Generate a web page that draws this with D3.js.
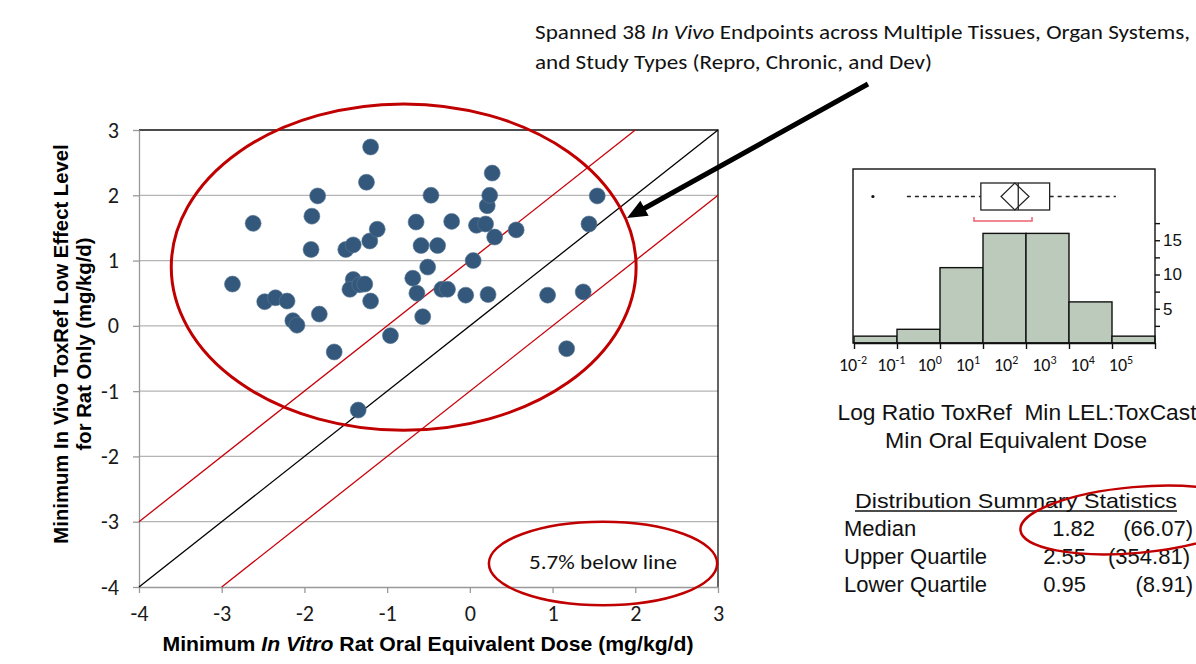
<!DOCTYPE html>
<html>
<head>
<meta charset="utf-8">
<script src="https://cdn.jsdelivr.net/npm/d3@7"></script>
<style>
  body { margin: 0; background: #fff; }
  svg { display: block; }
</style>
</head>
<body>
<svg id="chart" width="1196" height="664"></svg>
<script>
// scatter: min in vitro oral equivalent dose (x) vs min in vivo LEL (y), log10 mg/kg/d
var xVals = [-2.87, -2.62, -2.48, -2.35, -2.21, -2.14, -2.09, -1.84, -1.91, -1.92,
             -1.82, -1.64, -1.50, -1.41, -1.41, -1.45, -1.33, -1.27, -1.25, -1.20,
             -1.21, -1.12, -1.20, -1.35, -0.96, -0.69, -0.65, -0.59, -0.64, -0.57,
             -0.51, -0.47, -0.39, -0.34, -0.27, -0.22, -0.05, 0.04, 0.08, 0.19,
             0.22, 0.21, 0.24, 0.27, 0.30, 0.56, 0.94, 1.17, 1.37, 1.44, 1.54]
var yVals = [0.64, 1.57, 0.37, 0.43, 0.38, 0.08, 0.01, 1.99, 1.68, 1.17,
             0.18, -0.40, 1.17, 1.24, 0.71, 0.56, 0.63, 0.64, 2.20, 2.74,
             1.30, 1.48, 0.38, -1.29, -0.15, 0.73, 1.59, 1.23, 0.50, 0.14,
             0.90, 2.00, 1.23, 0.56, 0.56, 1.60, 0.47, 1.00, 1.54, 1.56,
             0.48, 1.84, 2.00, 2.34, 1.36, 1.47, 0.47, -0.35, 0.52, 1.56, 1.99]
var axisTicks = [-4, -3, -2, -1, 0, 1, 2, 3]
var lineOffsets = [1, 0, -1]

// histogram of log ratio
var binEdges = [-2, -1, 0, 1, 2, 3, 4, 5]
var binCounts = [1, 2, 11, 16, 16, 6, 1]
var histLabelExps = [-2, -1, 0, 1, 2, 3, 4, 5]
var countTicks = [2.5, 5, 7.5, 10, 12.5, 15, 17.5]
var box = { outlier: -1.56, lo: -0.77, q1: 0.95, med: 1.82, q3: 2.55, hi: 4.09,
            mean: 1.74, meanLo: 1.42, meanHi: 2.07, shortLo: 0.79, shortHi: 2.14 }

var statNames = ["Median", "Upper Quartile", "Lower Quartile"]
var statVals = ["1.82", "2.55", "0.95"]
var statBack = ["(66.07)", "(354.81)", "(8.91)"]

var svg = d3.select("#chart")
var calibri = "Carlito, 'Open Sans', sans-serif"
var arial = "'Liberation Sans', Arial, sans-serif"

var x = d3.scaleLinear().domain([-4, 3]).range([139, 718])
var y = d3.scaleLinear().domain([-4, 3]).range([587, 130])

// gridlines
svg.append("g").selectAll("line")
   .data(axisTicks.filter(function(d){ return d > -4 && d < 3 }))
   .enter().append("line")
   .attr("x1", x(-4)).attr("x2", x(3))
   .attr("y1", function(d){ return y(d) }).attr("y2", function(d){ return y(d) })
   .attr("stroke", "#b4b4b4").attr("stroke-width", 1.3)

// border top & right
svg.append("path")
   .attr("d", "M" + x(-4) + "," + y(3) + "H" + x(3) + "V" + y(-4))
   .attr("fill", "none").attr("stroke", "#111").attr("stroke-width", 1.3)

var fmt = function(d){ return String(d) }
var yAxis = d3.axisLeft(y).tickValues(axisTicks).tickFormat(fmt).tickSize(6).tickPadding(14).tickSizeOuter(0)
var gy = svg.append("g").attr("transform", "translate(" + x(-4) + ",0)").call(yAxis)
var xAxis = d3.axisBottom(x).tickValues(axisTicks).tickFormat(fmt).tickSize(6).tickPadding(12).tickSizeOuter(0)
var gx = svg.append("g").attr("transform", "translate(0," + y(-4) + ")").call(xAxis)
;[gx, gy].forEach(function(g){
  g.attr("font-size", null).attr("font-family", null)
  g.select(".domain").attr("stroke", "#999").attr("stroke-width", 1.3)
  g.selectAll(".tick line").attr("stroke", "#999").attr("stroke-width", 1.3)
  g.selectAll(".tick text").style("font-family", calibri).style("font-size", "20px").attr("fill", "#1a1a1a")
})
// size tick labels so "-4" is ~18px wide, like the original
var probe = gy.selectAll(".tick text").filter(function(d){ return d == -4 }).node()
var w = probe.getComputedTextLength()
var tickFont = Math.max(14, Math.min(26, 20 * 18 / w))
gx.selectAll(".tick text").style("font-size", tickFont + "px").attr("dy", "0.72em")
gy.selectAll(".tick text").style("font-size", tickFont + "px")

// diagonal lines y = x + k
svg.append("g").selectAll("line")
   .data(lineOffsets).enter().append("line")
   .attr("x1", function(k){ return x(Math.max(-4, -4 - k)) })
   .attr("y1", function(k){ return y(Math.max(-4, -4 - k) + k) })
   .attr("x2", function(k){ return x(Math.min(3, 3 - k)) })
   .attr("y2", function(k){ return y(Math.min(3, 3 - k) + k) })
   .attr("stroke", function(k){ return k == 0 ? "#000" : "#c8000a" })
   .attr("stroke-width", 1.3)

// points
svg.append("g").selectAll("circle")
   .data(xVals).enter().append("circle")
   .attr("cx", function(d){ return x(d) })
   .attr("cy", function(d, i){ return y(yVals[i]) })
   .attr("r", 8)
   .attr("fill", "#34587b")
   .attr("stroke", "#5a7896").attr("stroke-width", 0.6)

// annotation ellipses (data units)
var bigEl = { cx: -0.8, cy: 0.9, rx: 2.81, ry: 2.5 }
svg.append("ellipse")
   .attr("cx", x(bigEl.cx)).attr("cy", y(bigEl.cy))
   .attr("rx", x(bigEl.cx + bigEl.rx) - x(bigEl.cx))
   .attr("ry", y(bigEl.cy - bigEl.ry) - y(bigEl.cy))
   .attr("fill", "none").attr("stroke", "#c00000").attr("stroke-width", 3)

var smallEl = { cx: 1.61, cy: -3.64, rx: 1.38, ry: 0.64 }
svg.append("ellipse")
   .attr("cx", x(smallEl.cx)).attr("cy", y(smallEl.cy))
   .attr("rx", x(smallEl.cx + smallEl.rx) - x(smallEl.cx))
   .attr("ry", y(smallEl.cy - smallEl.ry) - y(smallEl.cy))
   .attr("fill", "none").attr("stroke", "#c00000").attr("stroke-width", 2.5)
svg.append("text")
   .attr("x", x(smallEl.cx)).attr("y", y(smallEl.cy) + 6)
   .attr("text-anchor", "middle").style("font-family", calibri).style("font-size", "20px")
   .attr("textLength", 148).attr("lengthAdjust", "spacingAndGlyphs")
   .attr("fill", "#111").text("5.7% below line")

// axis titles
var xt = svg.append("text").attr("x", 428).attr("y", 651).attr("text-anchor", "middle")
   .attr("font-family", arial).attr("font-size", 20.5).attr("font-weight", "bold")
   .attr("textLength", 531).attr("lengthAdjust", "spacingAndGlyphs")
xt.append("tspan").text("Minimum ")
xt.append("tspan").attr("font-style", "italic").text("In Vitro")
xt.append("tspan").text(" Rat Oral Equivalent Dose (mg/kg/d)")

var yt = svg.append("g").attr("transform", "translate(68,344) rotate(-90)")
yt.append("text").attr("text-anchor", "middle").attr("font-family", arial)
   .attr("font-size", 20.3).attr("font-weight", "bold")
   .text("Minimum In Vivo ToxRef Low Effect Level")
yt.append("text").attr("y", 23).attr("text-anchor", "middle").attr("font-family", arial)
   .attr("font-size", 20.3).attr("font-weight", "bold")
   .text("for Rat Only (mg/kg/d)")

// top annotation + arrow
var t1 = svg.append("text").attr("x", 535).attr("y", 39).style("font-family", calibri)
   .style("font-size", "20.5px").attr("fill", "#111")
   .attr("textLength", 655).attr("lengthAdjust", "spacingAndGlyphs")
t1.append("tspan").text("Spanned 38 ")
t1.append("tspan").attr("font-style", "italic").text("In Vivo")
t1.append("tspan").text(" Endpoints across Multiple Tissues, Organ Systems,")
svg.append("text").attr("x", 535).attr("y", 69).style("font-family", calibri)
   .style("font-size", "20.5px").attr("fill", "#111")
   .attr("textLength", 397).attr("lengthAdjust", "spacingAndGlyphs")
   .text("and Study Types (Repro, Chronic, and Dev)")

var a0 = [868, 84], a1 = [627, 218]
var dx = a1[0] - a0[0], dy = a1[1] - a0[1], len = Math.sqrt(dx*dx + dy*dy)
var ux = dx/len, uy = dy/len, hl = 20, hw = 8.5
var bx = a1[0] - ux*hl, by = a1[1] - uy*hl
svg.append("line").attr("x1", a0[0]).attr("y1", a0[1]).attr("x2", bx + ux*2).attr("y2", by + uy*2)
   .attr("stroke", "#000").attr("stroke-width", 5)
svg.append("polygon")
   .attr("points", [a1, [bx - uy*hw, by + ux*hw], [bx + uy*hw, by - ux*hw]].map(function(p){ return p.join(",") }).join(" "))
   .attr("fill", "#000")

// ---------- histogram panel ----------
var hx = d3.scaleLinear().domain([-2, 5]).range([854, 1155])
var hy = d3.scaleLinear().domain([0, 25.4]).range([343, 169])
var hlab = d3.scaleLinear().domain([-2, 5]).range([855, 1123])

svg.append("g").selectAll("rect")
   .data(binCounts).enter().append("rect")
   .attr("x", function(d, i){ return hx(binEdges[i]) })
   .attr("width", function(d, i){ return hx(binEdges[i] + 1) - hx(binEdges[i]) })
   .attr("y", function(d){ return hy(d) })
   .attr("height", function(d){ return hy(0) - hy(d) })
   .attr("fill", "#bccabb").attr("stroke", "#111").attr("stroke-width", 1.4)

svg.append("rect").attr("x", 853).attr("y", hy(25.4)).attr("width", hx(5) - 853)
   .attr("height", hy(0) - hy(25.4)).attr("fill", "none").attr("stroke", "#111").attr("stroke-width", 1.4)

var hxAxis = d3.axisBottom(hx).tickValues(binEdges).tickSize(6).tickFormat("").tickSizeOuter(0)
var ghx = svg.append("g").attr("transform", "translate(0," + hy(0) + ")").call(hxAxis)
ghx.select(".domain").attr("stroke", "#111").attr("stroke-width", 1.4)
ghx.selectAll(".tick line").attr("stroke", "#111").attr("stroke-width", 1.4)

var labs = svg.append("g").selectAll("text").data(histLabelExps).enter().append("text")
   .attr("x", function(d){ return hlab(d) - 2 }).attr("y", 371)
   .attr("text-anchor", "middle").style("font-family", calibri)
   .style("font-size", "18px").attr("fill", "#111")
labs.append("tspan").text("10")
labs.append("tspan").attr("dy", -7).style("font-size", "12px").text(function(d){ return d < 0 ? "-" + (-d) : d })

var hyAxis = d3.axisRight(hy).tickValues(countTicks).tickSize(5).tickPadding(3)
   .tickFormat(function(d){ return d % 5 == 0 ? d : "" }).tickSizeOuter(0)
var ghy = svg.append("g").attr("transform", "translate(" + hx(5) + ",0)").call(hyAxis)
ghy.select(".domain").remove()
ghy.selectAll(".tick line").attr("stroke", "#111").attr("stroke-width", 1.4)
ghy.selectAll(".tick text").style("font-family", arial).style("font-size", "17px").attr("fill", "#111")

// box plot
var by0 = 183, by1 = 210, bm = (by0 + by1) / 2
svg.append("line").attr("x1", hx(box.lo)).attr("x2", hx(box.q1)).attr("y1", bm).attr("y2", bm)
   .attr("stroke", "#222").attr("stroke-width", 1.5).attr("stroke-dasharray", "4,4")
svg.append("line").attr("x1", hx(box.q3)).attr("x2", hx(box.hi)).attr("y1", bm).attr("y2", bm)
   .attr("stroke", "#222").attr("stroke-width", 1.5).attr("stroke-dasharray", "4,4")
svg.append("rect").attr("x", hx(box.q1)).attr("y", by0).attr("width", hx(box.q3) - hx(box.q1))
   .attr("height", by1 - by0).attr("fill", "#fff").attr("stroke", "#222").attr("stroke-width", 1.3)
svg.append("line").attr("x1", hx(box.med)).attr("x2", hx(box.med)).attr("y1", by0).attr("y2", by1)
   .attr("stroke", "#222").attr("stroke-width", 1.3)
svg.append("polygon")
   .attr("points", [[hx(box.meanLo), bm], [hx(box.mean), by0], [hx(box.meanHi), bm], [hx(box.mean), by1]]
     .map(function(p){ return p.join(",") }).join(" "))
   .attr("fill", "none").attr("stroke", "#222").attr("stroke-width", 1.2)
svg.append("circle").attr("cx", hx(box.outlier)).attr("cy", bm).attr("r", 1.6).attr("fill", "#111")
svg.append("path")
   .attr("d", "M" + hx(box.shortLo) + ",217V221H" + hx(box.shortHi) + "V217")
   .attr("fill", "none").attr("stroke", "#f0606e").attr("stroke-width", 1.5)

// captions
svg.append("text").attr("x", 1017).attr("y", 420).attr("text-anchor", "middle")
   .attr("font-family", arial).attr("font-size", 22.5).attr("fill", "#111")
   .attr("textLength", 359).attr("lengthAdjust", "spacingAndGlyphs")
   .attr("xml:space", "preserve").text("Log Ratio ToxRef  Min LEL:ToxCast")
svg.append("text").attr("x", 1016).attr("y", 448).attr("text-anchor", "middle")
   .attr("font-family", arial).attr("font-size", 22.5).attr("fill", "#111")
   .attr("textLength", 262).attr("lengthAdjust", "spacingAndGlyphs")
   .text("Min Oral Equivalent Dose")

svg.append("text").attr("x", 855).attr("y", 508).attr("font-family", arial)
   .attr("font-size", 21).attr("fill", "#111")
   .attr("textLength", 322).attr("lengthAdjust", "spacingAndGlyphs")
   .text("Distribution Summary Statistics")
svg.append("line").attr("x1", 855).attr("x2", 1177).attr("y1", 511).attr("y2", 511)
   .attr("stroke", "#111").attr("stroke-width", 1.3)

var rows = svg.append("g").selectAll("g").data(statNames).enter().append("g")
   .attr("transform", function(d, i){ return "translate(0," + (536 + i * 28) + ")" })
   .attr("font-family", arial).attr("font-size", 22).attr("fill", "#111")
rows.append("text").attr("x", 844).text(function(d){ return d })
rows.append("text").attr("x", function(d, i){ return i == 0 ? 1095 : 1086 }).attr("text-anchor", "end")
   .text(function(d, i){ return statVals[i] })
rows.append("text").attr("x", function(d, i){ return i == 1 ? 1190 : 1193 }).attr("text-anchor", "end")
   .text(function(d, i){ return statBack[i] })

svg.append("ellipse").attr("cx", 1136).attr("cy", 520).attr("rx", 116).attr("ry", 33)
   .attr("transform", "rotate(-5,1136,520)")
   .attr("fill", "none").attr("stroke", "#c00000").attr("stroke-width", 2.5)
</script>
</body>
</html>
